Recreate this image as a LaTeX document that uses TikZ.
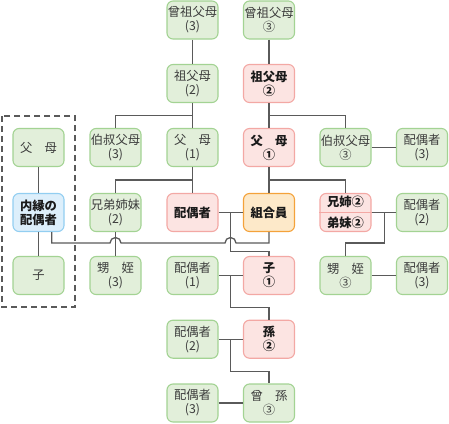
\documentclass[tikz,border=0pt]{standalone}
\usepackage{fontspec}
\setmainfont{Noto Sans CJK JP}
\definecolor{gfill}{HTML}{E2EFDA}
\definecolor{gdraw}{HTML}{A3D393}
\definecolor{pfill}{HTML}{FCE4E2}
\definecolor{pdraw}{HTML}{F3A8A4}
\definecolor{ofill}{HTML}{FDE9C9}
\definecolor{odraw}{HTML}{F4A23A}
\definecolor{bfill}{HTML}{DDEFFB}
\definecolor{bdraw}{HTML}{92CEF1}
\definecolor{lcol}{HTML}{5A5A5A}
\definecolor{gtext}{HTML}{3C3C3C}
\definecolor{ptext}{HTML}{1A1A1A}
\tikzset{
  box/.style={rounded corners=6pt, minimum width=51pt, minimum height=38pt,
    inner sep=0pt, line width=1.1pt, align=center,
    font=\fontsize{12.3}{14}\selectfont},
  gbox/.style={box, draw=gdraw, fill=gfill, text=gtext},
  pbox/.style={box, draw=pdraw, fill=pfill, text=ptext, font=\fontsize{12.3}{14}\selectfont\bfseries},
  obox/.style={box, draw=odraw, fill=ofill, text=ptext, font=\fontsize{12.3}{14}\selectfont\bfseries},
  bbox/.style={box, draw=bdraw, fill=bfill, text=ptext, font=\fontsize{12.3}{14}\selectfont\bfseries},
  plabel/.style={inner sep=0pt, text=ptext, font=\fontsize{12.3}{14}\selectfont\bfseries},
  conn/.style={draw=lcol, line width=1.3pt},
  dashbox/.style={draw=lcol, line width=1.3pt, dash pattern=on 6pt off 4pt}
}
\begin{document}
\begin{tikzpicture}[x=1pt,y=-1pt]
\useasboundingbox (0,0) rectangle (449,423);
% dashed frame
\draw[dashbox] (2,116) rectangle (75,307);
% nodes
\node[gbox] (gg3) at (192.5,20) {曾祖父母\\(3)};
\node[gbox] (gg3r) at (269,20) {曾祖父母\\③};
\node[gbox] (g2) at (192.5,83.5) {祖父母\\(2)};
\node[pbox] (g2r) at (269,83.5) {祖父母\\②};
\node[gbox] (u3) at (115.5,147.5) {伯叔父母\\(3)};
\node[gbox] (p1) at (192.5,147.5) {父　母\\(1)};
\node[pbox] (p1r) at (269,147.5) {父　母\\①};
\node[gbox] (u3r) at (345.5,147.5) {伯叔父母\\③};
\node[gbox] (s3r) at (422,147.5) {配偶者\\(3)};
\node[gbox] (pl) at (38.5,147.5) {父　母};
\node[bbox] (nai) at (38.5,212.5) {内縁の\\配偶者};
\node[gbox] (sib) at (115.5,212.5) {兄弟姉妹\\(2)};
\node[pbox] (spo) at (192.5,212.5) {配偶者};
\node[obox] (me) at (269,212.5) {組合員};
\node[pbox] (sibr) at (345.5,212.5) {};
\draw[draw=pdraw, line width=1.1pt] (sibr.west) -- (sibr.east);
\node[plabel] (sibra) at (345.5,202) {兄姉②};
\node[plabel] (sibrb) at (345.5,223) {弟妹②};
\node[gbox] (s2r) at (422,212.5) {配偶者\\(2)};
\node[gbox] (cl) at (38.5,275.5) {子};
\node[gbox] (nep) at (115.5,275.5) {甥　姪\\(3)};
\node[gbox] (s1) at (192.5,275.5) {配偶者\\(1)};
\node[pbox] (ch) at (269,275.5) {子\\①};
\node[gbox] (nepr) at (345.5,275.5) {甥　姪\\③};
\node[gbox] (s3n) at (422,275.5) {配偶者\\(3)};
\node[gbox] (s2) at (192.5,339.2) {配偶者\\(2)};
\node[pbox] (gc) at (269,339.2) {孫\\②};
\node[gbox] (s3) at (192.5,403) {配偶者\\(3)};
\node[gbox] (ggc) at (269,403) {曾　孫\\③};
% junction coordinates
\coordinate (j1) at (230.5,212.5);
\coordinate (j2) at (384.3,212.5);
\coordinate (j3) at (230.5,275.5);
\coordinate (j4) at (230.5,339.2);
% connectors
\draw[conn] (gg3) -- (g2);
\draw[conn] (gg3r) -- (g2r);
\draw[conn] (g2) -- (p1);
\draw[conn] (u3.north) |- (g2.south |- 0,115.5);
\draw[conn] (g2r) -- (p1r);
\draw[conn] (u3r.north) |- (g2r.south |- 0,115.5);
\draw[conn] (u3r.east) -- (s3r.west);
\draw[conn] (p1) -- (spo);
\draw[conn] (sib.north) |- (p1.south |- 0,180);
\draw[conn] (p1r) -- (me);
\draw[conn] (sibr.north) |- (p1r.south |- 0,180);
\draw[conn] (pl) -- (nai);
\draw[conn] (nai) -- (cl);
\draw[conn] (sib) -- (nep);
\draw[conn] (spo.east) -- (me.west);
\draw[conn] (j1) -- (230.5,251.7) -| (ch.north);
\draw[conn] (nai.south -| 51.7,0) -- (51.7,243) -- (110,243)
  arc[start angle=180, end angle=360, radius=5.5] -- (225,243)
  arc[start angle=180, end angle=360, radius=5.5] -- (269,243) -- (me.south);
\draw[conn] (sibr.east) -- (s2r.west);
\draw[conn] (j2) -- (384.3,243) -| (nepr.north);
\draw[conn] (nepr.east) -- (s3n.west);
\draw[conn] (s1.east) -- (ch.west);
\draw[conn] (j3) -- (230.5,307.7) -| (gc.north);
\draw[conn] (s2.east) -- (gc.west);
\draw[conn] (j4) -- (230.5,371.7) -| (ggc.north);
\draw[conn] (s3.east) -- (ggc.west);
\end{tikzpicture}
\end{document}
